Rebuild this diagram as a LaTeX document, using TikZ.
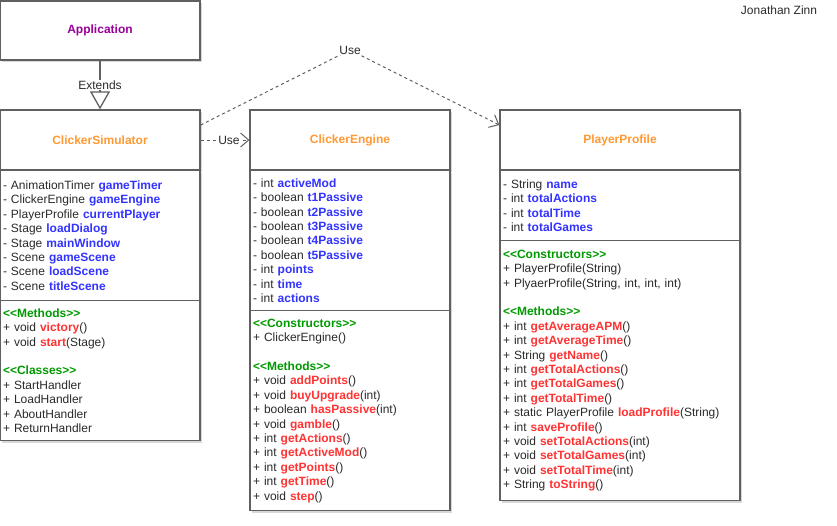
\documentclass[tikz,border=0pt]{standalone}
\usepackage{fontspec}
\setmainfont{Liberation Sans}
\usetikzlibrary{arrows.meta,shadows}
\definecolor{titleorange}{HTML}{FF9933}
\definecolor{appviolet}{HTML}{990099}
\definecolor{fieldblue}{HTML}{3333FF}
\definecolor{methodred}{HTML}{FF3333}
\definecolor{stereogreen}{HTML}{009900}
\definecolor{textgray}{HTML}{2A2A2A}
\definecolor{boxgray}{HTML}{606060}
\newcommand{\fld}[1]{\textcolor{fieldblue}{\textbf{#1}}}
\newcommand{\mtd}[1]{\textcolor{methodred}{\textbf{#1}}}
\newcommand{\stereo}[1]{\textcolor{stereogreen}{\textbf{<{}<#1>{}>}}}
\begin{document}
\begin{tikzpicture}[x=1pt, y=-1pt, font=\fontsize{12}{14.4}\selectfont]
	\tikzstyle{Head} = [rectangle, draw=boxgray, line width=1.3pt, fill=white, minimum height=60pt, font=\fontsize{12}{14}\selectfont\bfseries, text=titleorange, drop shadow={shadow xshift=2pt, shadow yshift=-2pt, fill=black!30}]
	\tikzstyle{Part} = [rectangle, draw=boxgray, line width=1.3pt, fill=white, inner xsep=3pt, inner ysep=0pt, align=left, anchor=north, text=textgray, drop shadow={shadow xshift=2pt, shadow yshift=-2pt, fill=black!30}]
	\tikzstyle{Label} = [fill=white, inner sep=1pt, text=textgray]
	\tikzstyle{uses} = [boxgray, line width=1pt, dash pattern=on 3pt off 3pt, -{Straight Barb[length=8pt, width=14pt]}]

	\useasboundingbox (0,0) rectangle (837,525);

	\node (app) [Head, minimum width=200pt, minimum height=59pt, text=appviolet] at (100,30.5) {Application};

	\node (sim) [Head, minimum width=200pt] at (100,140) {ClickerSimulator};
	\node (simAttr) [Part, text width=194pt, minimum height=130pt] at (100,170) {- AnimationTimer \fld{gameTimer}\\- ClickerEngine \fld{gameEngine}\\- PlayerProfile \fld{currentPlayer}\\- Stage \fld{loadDialog}\\- Stage \fld{mainWindow}\\- Scene \fld{gameScene}\\- Scene \fld{loadScene}\\- Scene \fld{titleScene}};
	\node (simMeth) [Part, text width=194pt, minimum height=140pt] at (100,300) {\stereo{Methods}\\+ void \mtd{victory}()\\+ void \mtd{start}(Stage)\\[14.4pt]\stereo{Classes}\\+ StartHandler\\+ LoadHandler\\+ AboutHandler\\+ ReturnHandler};

	\node (engine) [Head, minimum width=200pt] at (350,140) {ClickerEngine};
	\node (engineAttr) [Part, text width=194pt, minimum height=140pt] at (350,170) {- int \fld{activeMod}\\- boolean \fld{t1Passive}\\- boolean \fld{t2Passive}\\- boolean \fld{t3Passive}\\- boolean \fld{t4Passive}\\- boolean \fld{t5Passive}\\- int \fld{points}\\- int \fld{time}\\- int \fld{actions}};
	\node (engineMeth) [Part, text width=194pt, minimum height=200pt] at (350,310) {\stereo{Constructors}\\+ ClickerEngine()\\[14.4pt]\stereo{Methods}\\+ void \mtd{addPoints}()\\+ void \mtd{buyUpgrade}(int)\\+ boolean \mtd{hasPassive}(int)\\+ void \mtd{gamble}()\\+ int \mtd{getActions}()\\+ int \mtd{getActiveMod}()\\+ int \mtd{getPoints}()\\+ int \mtd{getTime}()\\+ void \mtd{step}()};

	\node (profile) [Head, minimum width=240pt] at (620,140) {PlayerProfile};
	\node (profileAttr) [Part, text width=234pt, minimum height=70pt] at (620,170) {- String \fld{name}\\- int \fld{totalActions}\\- int \fld{totalTime}\\- int \fld{totalGames}};
	\node (profileMeth) [Part, text width=234pt, minimum height=260pt] at (620,240) {\stereo{Constructors}\\+ PlayerProfile(String)\\+ PlyaerProfile(String, int, int, int)\\[14.4pt]\stereo{Methods}\\+ int \mtd{getAverageAPM}()\\+ int \mtd{getAverageTime}()\\+ String \mtd{getName}()\\+ int \mtd{getTotalActions}()\\+ int \mtd{getTotalGames}()\\+ int \mtd{getTotalTime}()\\+ static PlayerProfile \mtd{loadProfile}(String)\\+ int \mtd{saveProfile}()\\+ void \mtd{setTotalActions}(int)\\+ void \mtd{setTotalGames}(int)\\+ void \mtd{setTotalTime}(int)\\+ String \mtd{toString}()};

	\draw [boxgray, line width=1.3pt, -{Triangle[open, length=18pt, width=20pt]}] (app) -- (sim);
	\node (extends) [Label] at (100,85) {Extends};

	\draw [uses] (sim) -- (engine);
	\node (use1) [Label] at (229,140) {Use};

	\coordinate (bend) at (350,50);
	\draw [uses] ([yshift=15pt]sim.east) -- (bend) -- ([yshift=15pt]profile.west);
	\node (use2) [Label] at (bend) {Use};

	\node (author) [text=textgray] at (779,10) {Jonathan Zinn};
\end{tikzpicture}
\end{document}
